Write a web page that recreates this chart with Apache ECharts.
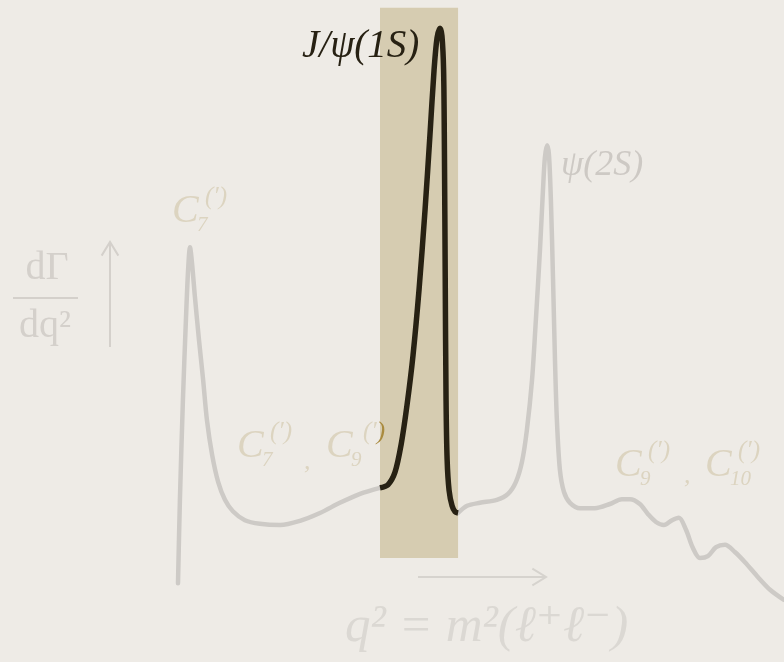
<!DOCTYPE html>
<html>
<head>
<meta charset="utf-8">
<script src="https://cdn.jsdelivr.net/npm/echarts@6/dist/echarts.min.js"></script>
<style>
  html, body { margin: 0; padding: 0; background: #eeebe6; }
  #chart { width: 784px; height: 662px; }
</style>
</head>
<body>
<div id="chart"></div>
<script>
// Sketch of the dilepton spectrum dΓ/dq² in b → s ℓ⁺ℓ⁻ (arbitrary units)
const q2 = [
  0.00, 0.07, 0.18, 0.29, 0.37, 0.44, 0.51, 0.62, 0.77, 0.92,
  1.06, 1.25, 1.47, 1.72, 2.01, 2.45, 3.00, 3.74, 4.47, 5.20,
  5.93, 6.67, 7.40,
  7.69, 7.95, 8.17, 8.39, 8.61, 8.83, 9.05, 9.23, 9.38, 9.49,
  9.60, 9.67, 9.73, 9.76, 9.79, 9.82, 9.86, 9.93, 10.04, 10.15,
  10.26,
  10.59, 11.06, 11.68, 12.09, 12.38, 12.60, 12.78, 12.97, 13.11, 13.26,
  13.37, 13.44, 13.52, 13.59, 13.66, 13.74, 13.81, 13.88, 13.99, 14.14,
  14.36, 14.73, 15.27, 15.82, 16.26, 16.56, 16.92, 17.22, 17.51, 17.80,
  18.10, 18.35, 18.61, 18.86, 19.12, 19.41, 19.71, 20.04, 20.40, 20.77,
  21.25, 21.69, 22.20
];
const rate = [
  2.8, 16.7, 33.3, 46.7, 55.0, 58.8, 56.3, 50.5, 43.3, 36.7,
  30.0, 24.2, 19.7, 16.7, 14.8, 13.3, 12.7, 12.5, 13.2, 14.5,
  16.2, 17.7, 18.7,
  19.2, 21.3, 25.8, 32.5, 40.8, 51.7, 65.0, 77.5, 88.3, 93.7,
  95.3, 94.0, 88.3, 75.0, 53.3, 33.3, 23.3, 18.3, 15.7, 14.7,
  14.5,
  15.7, 16.2, 16.7, 17.7, 19.7, 23.0, 28.3, 36.7, 46.7, 58.3,
  68.3, 73.7, 75.8, 74.2, 66.7, 53.3, 40.0, 30.0, 21.7, 18.0,
  16.2, 15.3, 15.3, 16.0, 16.8, 16.8, 16.0, 14.3, 13.0, 12.5,
  13.3, 13.7, 11.7, 8.7, 7.0, 7.3, 8.8, 9.2, 8.0, 6.3,
  3.8, 1.7, 0.0
];
// Highlighted J/ψ window in q² and its vertical extent
const bandQ2 = [7.40, 10.26];
const bandRate = [7.0, 98.7];

const points = q2.map((q, i) => [q, rate[i]]);
const lowSide = points.filter(p => p[0] <= bandQ2[0]);
const inBand = points.filter(p => p[0] >= bandQ2[0] && p[0] <= bandQ2[1]);
const highSide = points.filter(p => p[0] >= bandQ2[1]);

const GREY = '#cdcac6';
const INK = '#272113';
const PALE = '#dcd4c0';
const GOLD = '#a98a3e';
const AXIS = '#d4d0cb';
const SERIF = "'Liberation Serif', 'DejaVu Serif', serif";

function txt(x, y, text, size, color, opts) {
  opts = opts || {};
  const style = {
    text: text,
    font: (opts.italic === false ? '' : 'italic ') + (opts.weight ? opts.weight + ' ' : '') + size + 'px ' + SERIF,
    fill: color,
    textAlign: opts.align || 'left',
    textVerticalAlign: 'middle'
  };
  if (opts.rich) style.rich = opts.rich;
  return { type: 'text', x: x, y: y, z: 10, style: style };
}

// Wilson coefficient symbol C with subscript index and primed superscript
function coeff(x, y, index, color, dx, closeColor) {
  dx = dx || 0;
  const supRich = {
    a: { fill: color, font: 'italic 25px ' + SERIF },
    b: { fill: closeColor || color, font: 'italic 25px ' + SERIF }
  };
  return [
    txt(x, y, 'C', 40, color),
    txt(x + 25, y + 14, index, 21, color),
    txt(x + 33 + dx, y - 14, '{a|(′}{b|)}', 25, color, { rich: supRich })
  ];
}

function arrow(x1, y1, x2, y2, color) {
  const ang = Math.atan2(y2 - y1, x2 - x1);
  const L = 16, W = 0.55;
  return [
    { type: 'line', z: 10, shape: { x1: x1, y1: y1, x2: x2, y2: y2 },
      style: { stroke: color, lineWidth: 2 } },
    { type: 'polyline', z: 10,
      shape: { points: [
        [x2 - L * Math.cos(ang - W), y2 - L * Math.sin(ang - W)],
        [x2, y2],
        [x2 - L * Math.cos(ang + W), y2 - L * Math.sin(ang + W)]
      ] },
      style: { stroke: color, lineWidth: 2, fill: null } }
  ];
}

const graphics = [].concat(
  coeff(172, 211, '7', PALE),
  coeff(237, 446, '7', PALE),
  [txt(304, 462, ',', 26, PALE)],
  coeff(326, 446, '9', PALE, 4, GOLD),
  coeff(615, 465, '9', PALE),
  [txt(684, 476, ',', 26, PALE)],
  coeff(705, 465, '10', PALE),
  [txt(302, 47, 'J/ψ(1S)', 39, INK, { weight: 500 })],
  [txt(561, 166, 'ψ(2S)', 36, '#cdc9c4')],
  // vertical axis label as a fraction
  [txt(47, 268, 'dΓ', 40, AXIS, { italic: false, align: 'center' })],
  [{ type: 'line', z: 10, shape: { x1: 13, y1: 298, x2: 78, y2: 298 },
     style: { stroke: AXIS, lineWidth: 2 } }],
  [txt(45, 326, 'dq²', 40, AXIS, { italic: false, align: 'center' })],
  arrow(110, 347, 110, 242, AXIS),
  // horizontal axis label
  arrow(418, 577, 546, 577, '#d6d3ce'),
  [txt(345, 628, 'q² = m²(ℓ⁺ℓ⁻)', 51, '#dbd8d3')]
);

const chart = echarts.init(document.getElementById('chart'), null, { renderer: 'canvas' });
chart.setOption({
  backgroundColor: '#eeebe6',
  animation: false,
  grid: { left: 178, right: 0, top: 0, bottom: 62 },
  xAxis: { type: 'value', min: 0, max: 22.2, show: false },
  yAxis: { type: 'value', min: 0, max: 100, show: false },
  series: [
    {
      name: 'window', type: 'line', data: [], z: 1,
      markArea: {
        silent: true,
        itemStyle: { color: '#d6ccb1', opacity: 1 },
        data: [[{ coord: [bandQ2[0], bandRate[0]] }, { coord: [bandQ2[1], bandRate[1]] }]]
      }
    },
    {
      name: 'low q²', type: 'line', data: lowSide, z: 3,
      showSymbol: false, smooth: 0.3,
      lineStyle: { color: GREY, width: 4.5, cap: 'round', join: 'round' }
    },
    {
      name: 'J/ψ', type: 'line', data: inBand, z: 4,
      showSymbol: false, smooth: 0.3,
      lineStyle: { color: INK, width: 5.5, cap: 'butt', join: 'round' }
    },
    {
      name: 'high q²', type: 'line', data: highSide, z: 3,
      showSymbol: false, smooth: 0.3,
      lineStyle: { color: GREY, width: 4.5, cap: 'round', join: 'round' }
    }
  ],
  graphic: graphics
});
</script>
</body>
</html>
